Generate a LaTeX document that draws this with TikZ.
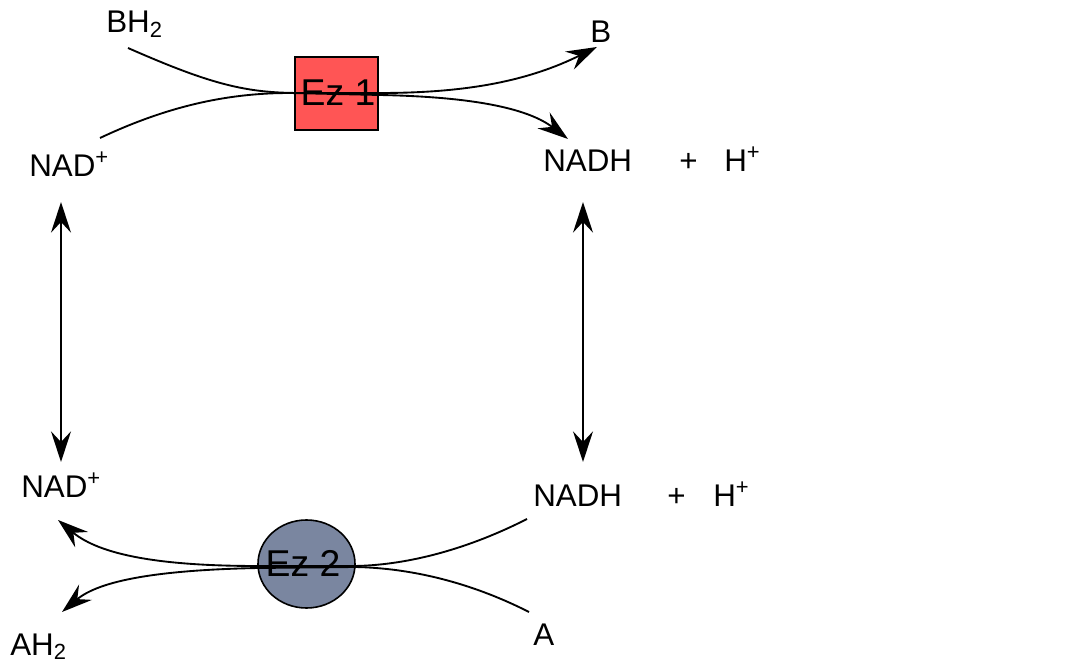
\documentclass[tikz,border=0pt]{standalone}
\usepackage{fontspec}
\setmainfont{Liberation Sans}
\usetikzlibrary{arrows.meta,shapes.geometric}
\definecolor{ezred}{HTML}{FF5555}
\definecolor{ezblue}{HTML}{7A86A0}
\begin{document}
\begin{tikzpicture}[x=0.75pt,y=-0.75pt,
  lbl/.style={anchor=base west,inner sep=0pt,font=\fontsize{23.5}{27}\selectfont},
  eztext/.style={font=\fontsize{28}{32}\selectfont},
  tip/.tip={Stealth[length=23pt,width=15pt,inset=8pt]},
  rxn/.style={line width=1.4pt,-tip},
  dbl/.style={line width=1.4pt,tip-tip}]
\useasboundingbox (0,0) rectangle (1072,666);
% enzymes
\node[draw,line width=1.4pt,fill=ezred,minimum width=83*0.75pt,minimum height=73*0.75pt,inner sep=0pt] (ez1) at (336.5,93.5) {};
\node[eztext] (ez1t) at (338,93) {Ez 1};
\node[draw,line width=1.2pt,fill=ezblue,ellipse,minimum width=97*0.75pt,minimum height=88*0.75pt,inner sep=0pt] (ez2) at (306.5,564) {};
\node[eztext] (ez2t) at (303,563) {Ez 2};
% labels
\node[lbl] (bh2) at (106,33) {BH\textsubscript{2}};
\node[lbl] (b) at (590,43) {B};
\node[lbl] (nadt) at (29,177) {NAD\textsuperscript{+}};
\node[lbl] (nadht) at (543,172) {NADH};
\node[lbl] (plust) at (679,172) {+};
\node[lbl] (ht) at (724,172) {H\textsuperscript{+}};
\node[lbl] (nadb) at (21,498) {NAD\textsuperscript{+}};
\node[lbl] (nadhb) at (533,507) {NADH};
\node[lbl] (plusb) at (667,507) {+};
\node[lbl] (hb) at (713,507) {H\textsuperscript{+}};
\node[lbl] (ah2) at (10,655) {AH\textsubscript{2}};
\node[lbl] (a) at (533,645) {A};
% connector ends
\coordinate (bhs) at (128,48);
\coordinate (bend) at (597,47);
\coordinate (nads) at (100,138);
\coordinate (nadhend) at (568,139);
\coordinate (nadhs) at (527,519);
\coordinate (nadend) at (58,520);
\coordinate (as) at (529,612);
\coordinate (ahend) at (62,612);
\coordinate (lt) at (61,202);
\coordinate (lb) at (61,462);
\coordinate (rt) at (583,202);
\coordinate (rb) at (583,462);
% reactions
\draw[rxn] (bhs) .. controls (210,84) and (245,93) .. (300,93) -- (380,93) .. controls (470,93) and (530,80) .. (bend);
\draw[rxn] (nads) .. controls (170,105) and (230,93) .. (290,93) -- (380,95) .. controls (480,97) and (530,110) .. (nadhend);
\draw[rxn] (nadhs) .. controls (470,548) and (410,565) .. (355,566) -- (258,566) .. controls (160,566) and (100,555) .. (nadend);
\draw[rxn] (as) .. controls (470,582) and (410,568) .. (355,567) -- (258,568) .. controls (160,570) and (100,580) .. (ahend);
\draw[dbl] (lt) -- (lb);
\draw[dbl] (rt) -- (rb);
\end{tikzpicture}
\end{document}
